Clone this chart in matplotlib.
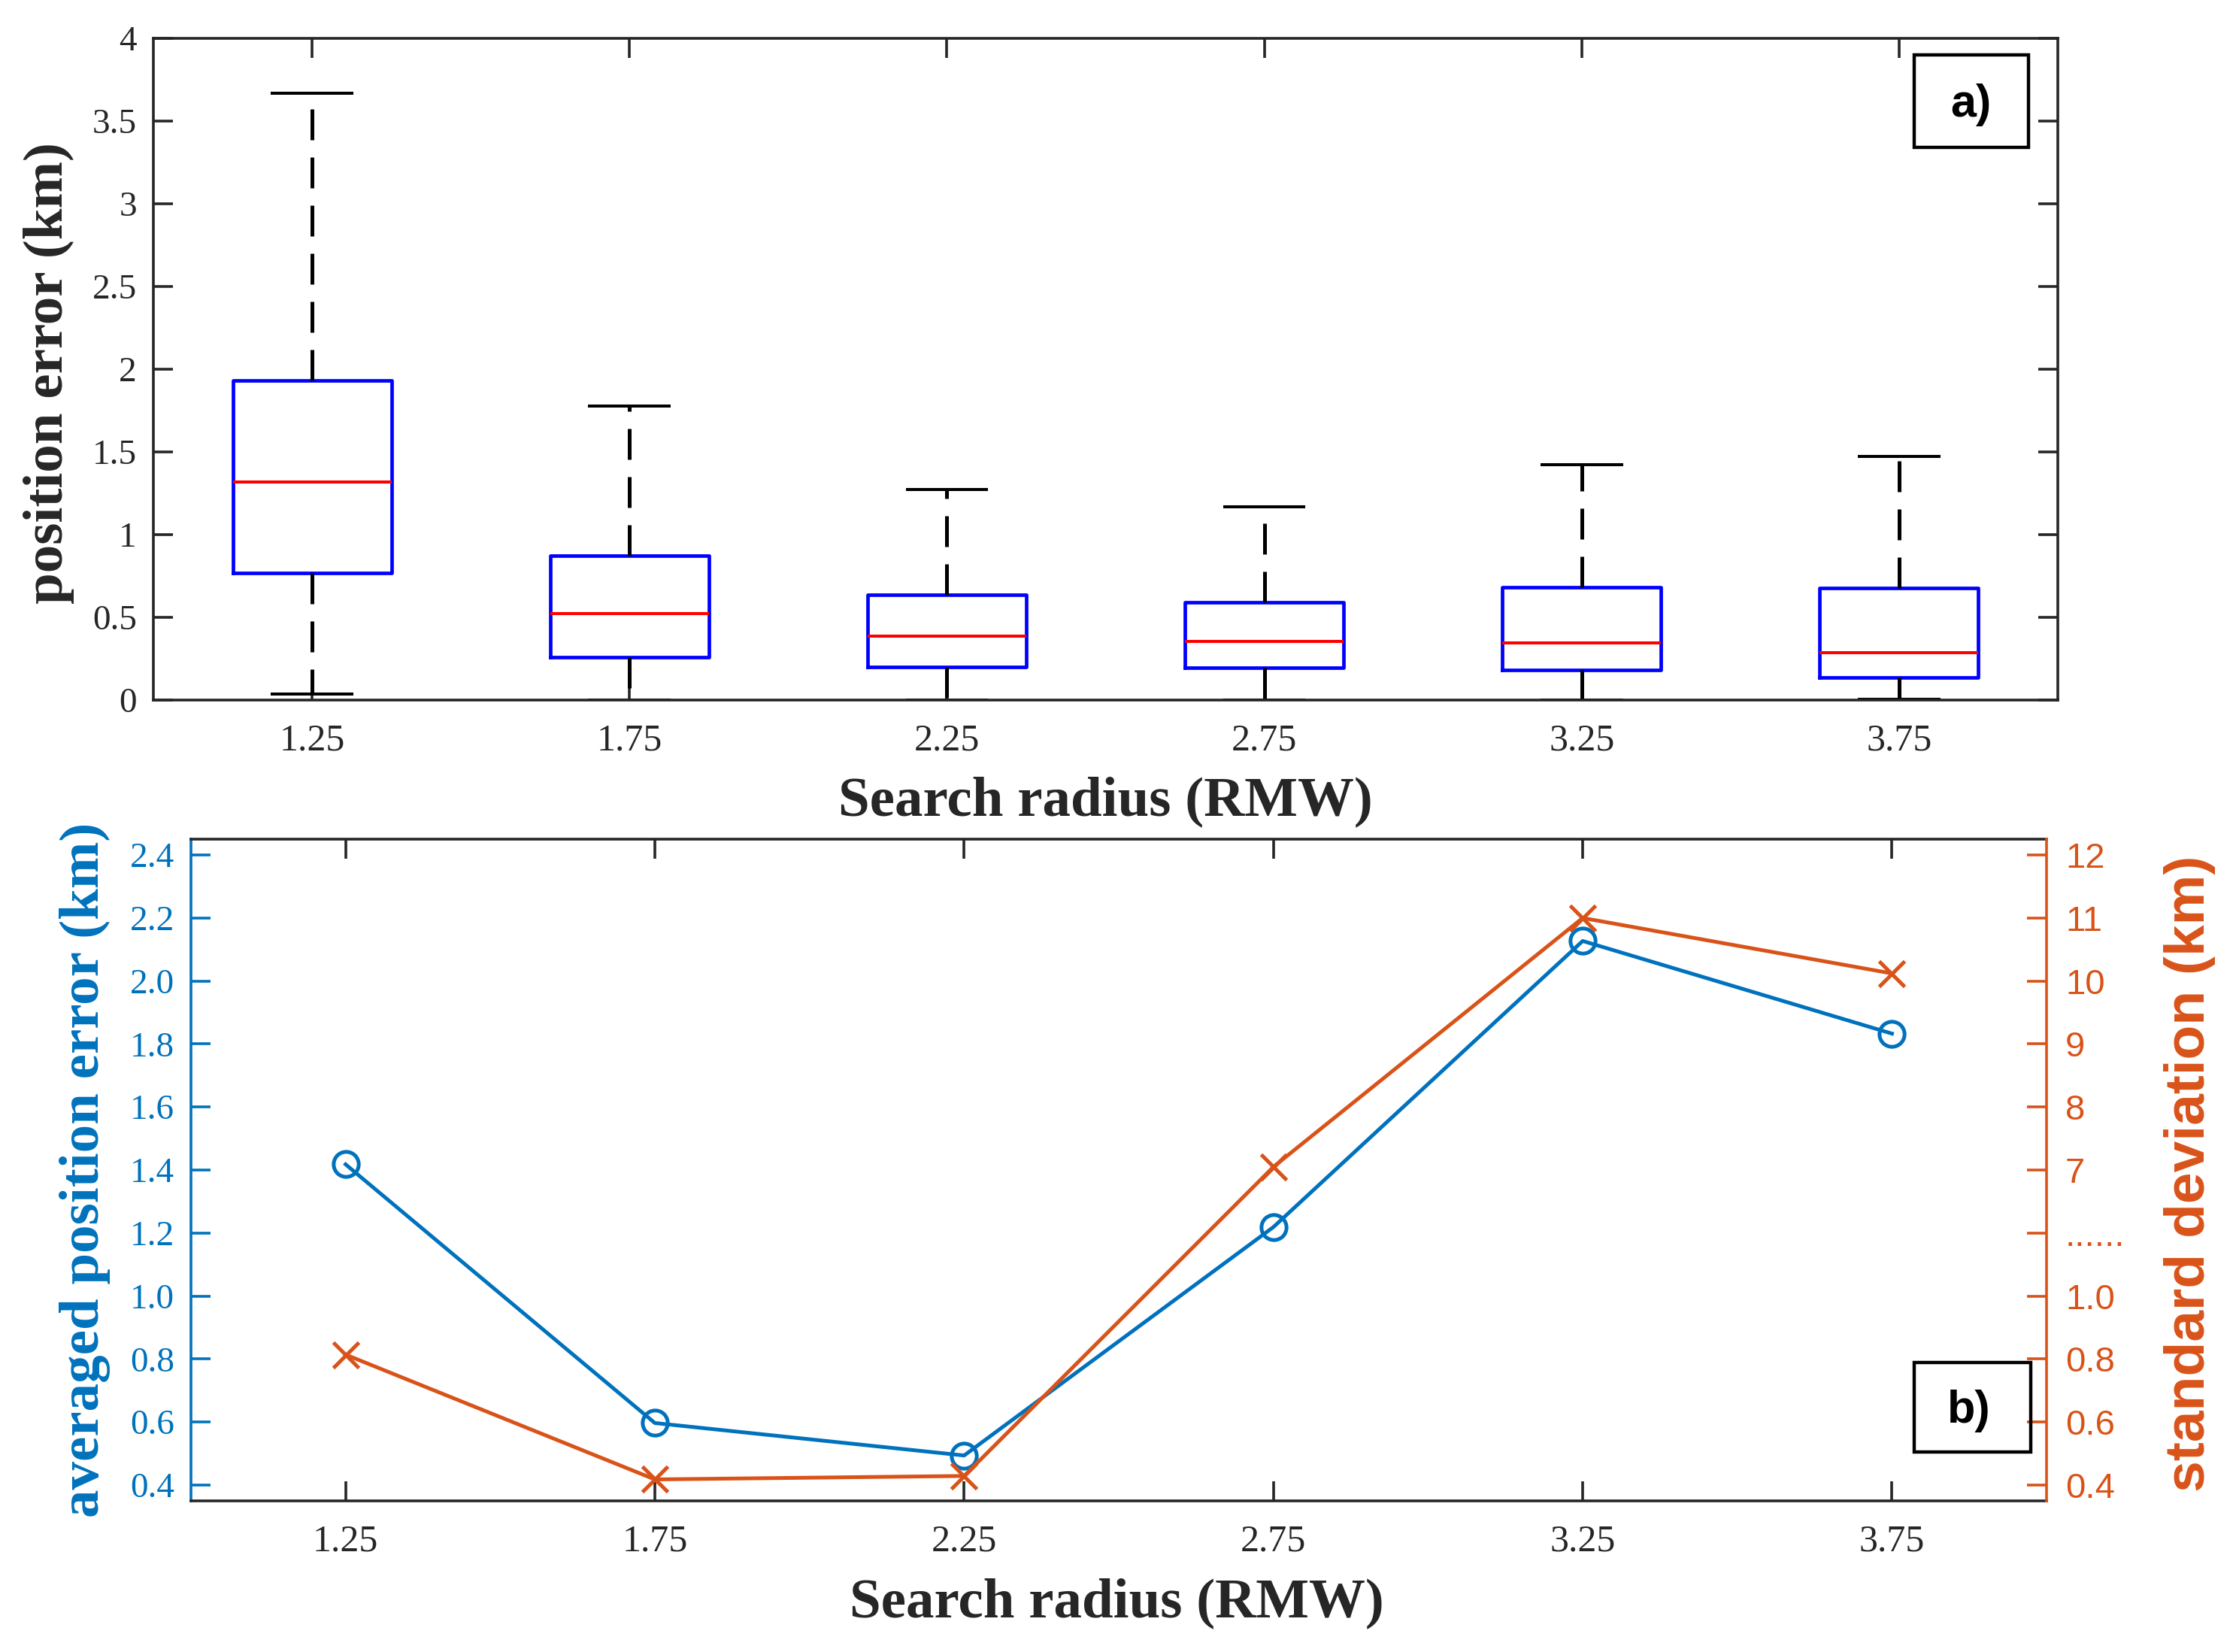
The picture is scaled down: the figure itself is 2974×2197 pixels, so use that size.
import numpy as np
import matplotlib
matplotlib.use("Agg")
import matplotlib.pyplot as plt
from matplotlib.patches import Rectangle

# ---------------- data ----------------
categories = ['1.25', '1.75', '2.25', '2.75', '3.25', '3.75']
radius = [1.25, 1.75, 2.25, 2.75, 3.25, 3.75]

# panel a) box statistics (km)
box_q1 = [0.768, 0.260, 0.202, 0.196, 0.182, 0.136]
box_med = [1.319, 0.522, 0.385, 0.356, 0.345, 0.286]
box_q3 = [1.933, 0.875, 0.637, 0.591, 0.684, 0.678]
box_lo = [0.038, 0.0, 0.0, 0.0, 0.0, 0.005]
box_hi = [3.667, 1.777, 1.275, 1.168, 1.423, 1.473]

# panel b)
mean_err = [1.418, 0.597, 0.494, 1.219, 2.127, 1.833]
std_dev = [0.814, 0.418, 0.429, 7.05, 11.0, 10.12]

left_ticks = [0.4, 0.6, 0.8, 1.0, 1.2, 1.4, 1.6, 1.8, 2.0, 2.2, 2.4]
right_ticks = [0.4, 0.6, 0.8, 1.0, 4.0, 7, 8, 9, 10, 11, 12]
right_labels = ['0.4', '0.6', '0.8', '1.0', '......', '7', '8', '9', '10', '11', '12']

# ---------------- style ----------------
AX = '#262626'
BLUE = '#0072BD'
ORANGE = '#D95319'
SERIF = ['Liberation Serif', 'DejaVu Serif']
SANS = ['Liberation Sans', 'DejaVu Sans']

fig = plt.figure(figsize=(14.87, 10.985), dpi=200)

# ================= panel a =================
axa = fig.add_axes([0.0686, 0.5762, 0.8517, 0.4005])
stats = []
for i in range(len(categories)):
    stats.append(dict(med=box_med[i], q1=box_q1[i], q3=box_q3[i],
                      whislo=box_lo[i], whishi=box_hi[i], fliers=[]))
axa.bxp(stats, positions=range(1, len(categories) + 1), widths=0.5,
        capwidths=0.25, showfliers=False,
        boxprops=dict(color='#0000FF', linewidth=1.7),
        medianprops=dict(color='#FF0000', linewidth=1.45),
        whiskerprops=dict(color='k', linewidth=1.8, linestyle=(0, (8.2, 4.6))),
        capprops=dict(color='k', linewidth=1.45))
axa.set_xlim(0.5, 6.5)
axa.set_ylim(0, 4)
axa.set_xticks(range(1, len(categories) + 1))
axa.set_xticklabels(categories, fontsize=18, family=SERIF, color=AX)
axa.set_yticks([0, 0.5, 1, 1.5, 2, 2.5, 3, 3.5, 4])
axa.set_yticklabels(['0', '0.5', '1', '1.5', '2', '2.5', '3', '3.5', '4'],
                    fontsize=17, family=SERIF, color=AX)
axa.tick_params(axis='both', direction='in', length=9.5, width=1.3, color=AX,
                top=True, right=True)
axa.tick_params(axis='x', pad=11)
axa.tick_params(axis='y', pad=8)
for s in axa.spines.values():
    s.set_linewidth(1.3)
    s.set_color(AX)
axa.set_ylabel('position error (km)', family=SERIF, fontweight='bold',
               fontsize=27, color=AX, ha='center', va='center')
axa.yaxis.set_label_coords(-0.0549, 0.494)
axa.set_xlabel('Search radius (RMW)', family=SERIF, fontweight='bold',
               fontsize=27, color=AX, ha='center', va='center')
axa.xaxis.set_label_coords(0.5, -0.153)
axa.add_patch(Rectangle((0.9246, 0.835), 0.06, 0.14, transform=axa.transAxes,
                        fill=False, edgecolor='k', linewidth=1.6, zorder=5))
axa.text(0.9545, 0.90, 'a)', transform=axa.transAxes, ha='center', va='center',
         family=SANS, fontweight='bold', fontsize=22, color='k', zorder=6)

# ================= panel b =================
axb = fig.add_axes([0.0854, 0.0915, 0.8299, 0.4005])
axb.plot(radius, mean_err, color=BLUE, linewidth=1.8, marker='o',
         markersize=12, markerfacecolor='none', markeredgewidth=1.8,
         markeredgecolor=BLUE, zorder=3)
axb.set_xlim(1, 4)
axb.set_ylim(0.35, 2.45)
axb.set_xticks(radius)
axb.set_xticklabels(categories, fontsize=18, family=SERIF, color=AX)
axb.set_yticks(left_ticks)
axb.set_yticklabels([f'{t:.1f}' for t in left_ticks], fontsize=17,
                    family=SERIF, color=BLUE)
axb.tick_params(axis='x', direction='in', length=9.5, width=1.3, color=AX,
                top=True, pad=11)
axb.tick_params(axis='y', direction='in', length=9.5, width=1.3, color=BLUE,
                right=False, pad=8)
for k in ['top', 'bottom']:
    axb.spines[k].set_linewidth(1.3)
    axb.spines[k].set_color(AX)
axb.spines['left'].set_linewidth(1.3)
axb.spines['left'].set_color(BLUE)
axb.spines['right'].set_visible(False)
axb.set_ylabel('averaged position error (km)', family=SERIF, fontweight='bold',
               fontsize=27, color=BLUE, ha='center', va='center')
axb.yaxis.set_label_coords(-0.0571, 0.5)
axb.set_xlabel('Search radius (RMW)', family=SERIF, fontweight='bold',
               fontsize=27, color=AX, ha='center', va='center')
axb.xaxis.set_label_coords(0.499, -0.1545)


# broken right axis via a piecewise-linear function scale
def fwd(v):
    v = np.asarray(v, dtype=float)
    return np.where(v <= 1.0, v,
                    np.where(v >= 7.0, 1.4 + (v - 7.0) * 0.2,
                             1.0 + (v - 1.0) * (0.4 / 6.0)))


def inv(y):
    y = np.asarray(y, dtype=float)
    return np.where(y <= 1.0, y,
                    np.where(y >= 1.4, 7.0 + (y - 1.4) * 5.0,
                             1.0 + (y - 1.0) * 15.0))


ax2 = axb.twinx()
ax2.set_yscale('function', functions=(fwd, inv))
ax2.plot(radius, std_dev, color=ORANGE, linewidth=1.8, marker='x',
         markersize=12, markeredgewidth=1.8, zorder=3)
ax2.set_ylim(0.35, 12.25)
ax2.set_yticks(right_ticks)
ax2.set_yticklabels(right_labels, fontsize=17, family=SANS, color=ORANGE)
ax2.yaxis.set_minor_locator(matplotlib.ticker.NullLocator())
ax2.tick_params(axis='y', direction='in', length=9.5, width=1.3, color=ORANGE,
                pad=9)
for k in ['left', 'top', 'bottom']:
    ax2.spines[k].set_visible(False)
ax2.spines['right'].set_linewidth(1.3)
ax2.spines['right'].set_color(ORANGE)
ax2.set_ylabel('standard deviation (km)', family=SANS, fontweight='bold',
               fontsize=27, color=ORANGE, ha='center', va='center',
               rotation=90)
ax2.yaxis.set_label_coords(1.077, 0.495)

ax2.add_patch(Rectangle((0.9287, 0.0739), 0.0628, 0.1351,
                        transform=ax2.transAxes, fill=False, edgecolor='k',
                        linewidth=1.6, zorder=5))
ax2.text(0.958, 0.136, 'b)', transform=ax2.transAxes, ha='center', va='center',
         family=SANS, fontweight='bold', fontsize=22, color='k', zorder=6)

fig.savefig('out.png', dpi=200)
